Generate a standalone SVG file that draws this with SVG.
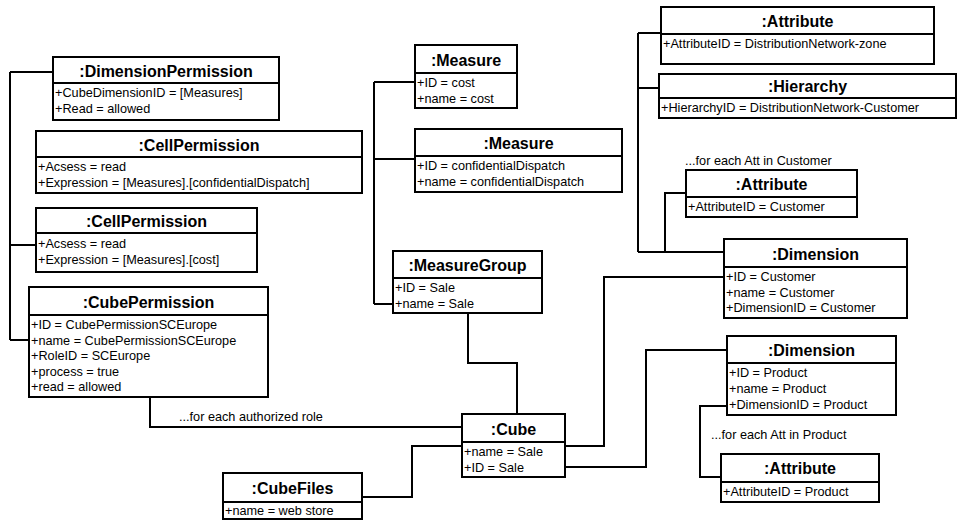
<svg xmlns="http://www.w3.org/2000/svg" width="957" height="520" viewBox="0 0 957 520">
  <style>
    .box { fill: #fff; stroke: #000; stroke-width: 2; }
    .div { stroke: #000; stroke-width: 2; }
    .title { font-family: "Liberation Sans", Arial, sans-serif; font-size: 16px; font-weight: bold; text-anchor: middle; fill: #000; }
    .attr { font-family: "Liberation Sans", Arial, sans-serif; font-size: 12.7px; fill: #000; }
    .note { font-family: "Liberation Sans", Arial, sans-serif; font-size: 12.7px; fill: #000; }
    .conn { fill: none; stroke: #000; stroke-width: 2; }
  </style>
  <rect width="957" height="520" fill="#fff"/>

  <!-- connectors -->
  <g id="connectors">
    <!-- permissions tree -->
    <path class="conn" d="M10,72 V340 M10,72 H53 M10,245 H36 M10,340 H29"/>
    <path class="conn" d="M150,397 V427 H462"/>
    <!-- measures tree -->
    <path class="conn" d="M374,82 V304 M374,82 H415 M374,159 H415 M374,304 H393"/>
    <path class="conn" d="M468,313 V363 H517 V414"/>
    <path class="conn" d="M462,446 H412 V497 H362"/>
    <path class="conn" d="M565,446 H604 V277 H724"/>
    <path class="conn" d="M565,467 H646 V350 H727"/>
    <!-- customer dimension tree -->
    <path class="conn" d="M638,33 V252 M638,33 H661 M638,88 H659 M638,252 H724"/>
    <path class="conn" d="M686,193 H665 V252"/>
    <!-- product dimension -->
    <path class="conn" d="M727,406 H700 V477 H721"/>
    <text class="note" x="179" y="421">...for each authorized role</text>
    <text class="note" x="685" y="165">...for each Att in Customer</text>
    <text class="note" x="711" y="439">...for each Att in Product</text>
  </g>

  <g id="dimensionPermission">
    <rect class="box" x="53" y="57" width="226" height="63"/>
    <line class="div" x1="53" y1="83" x2="279" y2="83"/>
    <text class="title" x="166" y="77">:DimensionPermission</text>
    <text class="attr" x="55" y="97">+CubeDimensionID = [Measures]</text>
    <text class="attr" x="55" y="113">+Read = allowed</text>
  </g>

  <g id="cellPermission1">
    <rect class="box" x="36" y="131" width="326" height="62"/>
    <line class="div" x1="36" y1="157" x2="362" y2="157"/>
    <text class="title" x="199" y="151">:CellPermission</text>
    <text class="attr" x="38" y="171">+Acsess = read</text>
    <text class="attr" x="38" y="187">+Expression = [Measures].[confidentialDispatch]</text>
  </g>

  <g id="cellPermission2">
    <rect class="box" x="36" y="208" width="221" height="64"/>
    <line class="div" x1="36" y1="233" x2="257" y2="233"/>
    <text class="title" x="146.5" y="227">:CellPermission</text>
    <text class="attr" x="38" y="248">+Acsess = read</text>
    <text class="attr" x="38" y="264">+Expression = [Measures].[cost]</text>
  </g>

  <g id="cubePermission">
    <rect class="box" x="29" y="287" width="239" height="110"/>
    <line class="div" x1="29" y1="315" x2="268" y2="315"/>
    <text class="title" x="148.5" y="308">:CubePermission</text>
    <text class="attr" x="31" y="329">+ID = CubePermissionSCEurope</text>
    <text class="attr" x="31" y="345">+name = CubePermissionSCEurope</text>
    <text class="attr" x="31" y="360">+RoleID = SCEurope</text>
    <text class="attr" x="31" y="376">+process = true</text>
    <text class="attr" x="31" y="391">+read = allowed</text>
  </g>

  <g id="measureCost">
    <rect class="box" x="415" y="45" width="102" height="63"/>
    <line class="div" x1="415" y1="73" x2="517" y2="73"/>
    <text class="title" x="466" y="66">:Measure</text>
    <text class="attr" x="417" y="87">+ID = cost</text>
    <text class="attr" x="417" y="103">+name = cost</text>
  </g>

  <g id="measureConfidential">
    <rect class="box" x="415" y="129" width="207" height="63"/>
    <line class="div" x1="415" y1="156" x2="622" y2="156"/>
    <text class="title" x="518.5" y="149">:Measure</text>
    <text class="attr" x="417" y="170">+ID = confidentialDispatch</text>
    <text class="attr" x="417" y="186">+name = confidentialDispatch</text>
  </g>

  <g id="measureGroup">
    <rect class="box" x="393" y="251" width="149" height="62"/>
    <line class="div" x1="393" y1="278" x2="542" y2="278"/>
    <text class="title" x="467.5" y="271">:MeasureGroup</text>
    <text class="attr" x="395" y="292">+ID = Sale</text>
    <text class="attr" x="395" y="308">+name = Sale</text>
  </g>

  <g id="cube">
    <rect class="box" x="462" y="414" width="103" height="63"/>
    <line class="div" x1="462" y1="442" x2="565" y2="442"/>
    <text class="title" x="513.5" y="435">:Cube</text>
    <text class="attr" x="464" y="456">+name = Sale</text>
    <text class="attr" x="464" y="472">+ID = Sale</text>
  </g>

  <g id="cubeFiles">
    <rect class="box" x="223" y="473" width="139" height="46"/>
    <line class="div" x1="223" y1="502" x2="362" y2="502"/>
    <text class="title" x="292.5" y="494">:CubeFiles</text>
    <text class="attr" x="225" y="515">+name = web store</text>
  </g>

  <g id="attributeZone">
    <rect class="box" x="661" y="7" width="273" height="57"/>
    <line class="div" x1="661" y1="34" x2="934" y2="34"/>
    <text class="title" x="797.5" y="27">:Attribute</text>
    <text class="attr" x="663" y="48">+AttributeID = DistributionNetwork-zone</text>
  </g>

  <g id="hierarchy">
    <rect class="box" x="659" y="74" width="297" height="44"/>
    <line class="div" x1="659" y1="98" x2="956" y2="98"/>
    <text class="title" x="807.5" y="92">:Hierarchy</text>
    <text class="attr" x="661" y="112">+HierarchyID = DistributionNetwork-Customer</text>
  </g>

  <g id="attributeCustomer">
    <rect class="box" x="686" y="170" width="171" height="47"/>
    <line class="div" x1="686" y1="197" x2="857" y2="197"/>
    <text class="title" x="771.5" y="190">:Attribute</text>
    <text class="attr" x="688" y="211">+AttributeID = Customer</text>
  </g>

  <g id="dimensionCustomer">
    <rect class="box" x="724" y="239" width="183" height="79"/>
    <line class="div" x1="724" y1="267" x2="907" y2="267"/>
    <text class="title" x="815.5" y="260">:Dimension</text>
    <text class="attr" x="726" y="281">+ID = Customer</text>
    <text class="attr" x="726" y="297">+name = Customer</text>
    <text class="attr" x="726" y="312">+DimensionID = Customer</text>
  </g>

  <g id="dimensionProduct">
    <rect class="box" x="727" y="336" width="169" height="79"/>
    <line class="div" x1="727" y1="363" x2="896" y2="363"/>
    <text class="title" x="811.5" y="356">:Dimension</text>
    <text class="attr" x="729" y="377">+ID = Product</text>
    <text class="attr" x="729" y="393">+name = Product</text>
    <text class="attr" x="729" y="409">+DimensionID = Product</text>
  </g>

  <g id="attributeProduct">
    <rect class="box" x="721" y="454" width="158" height="48"/>
    <line class="div" x1="721" y1="482" x2="879" y2="482"/>
    <text class="title" x="800" y="474">:Attribute</text>
    <text class="attr" x="723" y="496">+AttributeID = Product</text>
  </g>
</svg>
